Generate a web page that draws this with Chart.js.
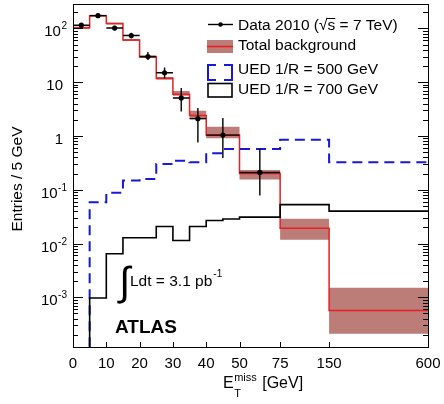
<!DOCTYPE html>
<html>
<head>
<meta charset="utf-8">
<script src="https://cdn.jsdelivr.net/npm/chart.js@4.4.1/dist/chart.umd.min.js"></script>
<style>
  html, body { margin: 0; padding: 0; background: #fff; }
  #wrap { width: 444px; height: 404px; }
</style>
</head>
<body>
<div id="wrap"><canvas id="chart" width="444" height="404"></canvas></div>
<script>
// Missing transverse energy, ATLAS 2010 data vs background and UED signals

const FONT = "'Liberation Sans', Arial, Helvetica, sans-serif";

// x axis is piecewise linear: knots in GeV and their position on the drawn axis
const X_KNOTS_GEV = [0, 50, 75, 150, 600];
const X_KNOTS_POS = [0, 50, 62.2, 76.9, 106.6];
const X_TICKS = [0, 10, 20, 30, 40, 50, 75, 150, 600];

// y axis range (log)
const Y_MIN = 1.19e-4;
const Y_MAX = 285;

// total background (bin edges in GeV, entries / 5 GeV)
const bgEdges = [0, 5, 10, 15, 20, 25, 30, 35, 40, 50, 75, 150, 600];
const bgValues = [103, 173, 123, 61, 29.6, 11.8, 6.0, 2.4, 1.04, 0.2, 0.0193, 0.00057];
const bgUp = [108, 180, 128, 63.5, 31, 12.5, 6.9, 2.95, 1.49, 0.234, 0.0288, 0.0015];
const bgDown = [98, 166, 118, 58.5, 28.2, 11.1, 5.6, 2.05, 0.91, 0.155, 0.0118, 0.00021];

// UED signals (first bin is empty, below the axis range)
const sigEdges = [0, 5, 10, 15, 20, 25, 30, 35, 40, 45, 50, 75, 150, 600];
const ued500 = [1e-6, 0.0586, 0.0876, 0.148, 0.159, 0.30, 0.348, 0.324, 0.48, 0.574, 0.574, 0.85, 0.324];
const ued700 = [1e-6, 0.00097, 0.00647, 0.0128, 0.0128, 0.0208, 0.0114, 0.0208, 0.0268, 0.0285, 0.031, 0.053, 0.040];

// data 2010
const dataEdges = [0, 5, 10, 15, 20, 25, 30, 35, 40, 50, 75];
const dataValues = [115, 173, 102, 74, 30, 15, 5.1, 2.1, 1.04, 0.21];
const dataErrLo = [104, 160, 92, 65, 25.8, 11.9, 2.86, 0.76, 0.39, 0.078];
const dataErrHi = [126, 186, 112, 83, 36.6, 18.7, 7.8, 3.3, 2.16, 0.574];

const RED = 'rgb(232, 30, 34)';
const BLUE = 'rgb(24, 24, 214)';
const BAND = 'rgb(188, 124, 119)';

// GeV -> position on the (linear) x scale
function U(gev) {
  for (let i = 1; i < X_KNOTS_GEV.length; i++) {
    if (gev <= X_KNOTS_GEV[i]) {
      const a = X_KNOTS_GEV[i - 1], b = X_KNOTS_GEV[i];
      const t = (gev - a) / (b - a);
      return X_KNOTS_POS[i - 1] + t * (X_KNOTS_POS[i] - X_KNOTS_POS[i - 1]);
    }
  }
  return X_KNOTS_POS[X_KNOTS_POS.length - 1];
}

function stepPoints(edges, values) {
  return edges.map((e, i) => ({ x: U(e), y: values[Math.min(i, values.length - 1)] }));
}

const dataPoints = dataValues.map((v, i) => ({ x: U((dataEdges[i] + dataEdges[i + 1]) / 2), y: v }));

function drawPow(ctx, exp, rightX, baseY) {
  ctx.font = `15px ${FONT}`;
  const wb = ctx.measureText('10').width;
  ctx.font = `10px ${FONT}`;
  const ws = ctx.measureText(exp).width;
  ctx.textAlign = 'left';
  ctx.fillText(exp, rightX - ws, baseY - 7);
  ctx.font = `15px ${FONT}`;
  ctx.fillText('10', rightX - ws - wb - 0.5, baseY);
}

const histoDecor = {
  id: 'histoDecor',
  afterDatasetsDraw(chart) {
    const { ctx, scales: { x, y } } = chart;
    ctx.save();
    ctx.strokeStyle = '#000';
    ctx.lineWidth = 1.4;
    dataValues.forEach((v, i) => {
      const xl = x.getPixelForValue(U(dataEdges[i]));
      const xr = x.getPixelForValue(U(dataEdges[i + 1]));
      const xc = x.getPixelForValue(U((dataEdges[i] + dataEdges[i + 1]) / 2));
      const yc = y.getPixelForValue(v);
      ctx.beginPath();
      ctx.moveTo(xl, yc);
      ctx.lineTo(xr, yc);
      ctx.moveTo(xc, y.getPixelForValue(dataErrLo[i]));
      ctx.lineTo(xc, y.getPixelForValue(dataErrHi[i]));
      ctx.stroke();
    });
    ctx.restore();
  },
  afterDraw(chart) {
    const { ctx, chartArea: a, scales: { x, y } } = chart;
    ctx.save();

    // frame
    ctx.strokeStyle = '#000';
    ctx.lineWidth = 1;
    ctx.strokeRect(Math.round(a.left) + 0.5, Math.round(a.top) + 0.5,
      Math.round(a.right - a.left), Math.round(a.bottom - a.top));

    // y ticks, inside on both sides
    ctx.beginPath();
    for (let e = -4; e <= 2; e++) {
      for (let m = 1; m <= 9; m++) {
        const v = m * Math.pow(10, e);
        if (v < Y_MIN || v > Y_MAX) continue;
        const py = Math.round(y.getPixelForValue(v)) + 0.5;
        const len = m === 1 ? 10 : 5;
        ctx.moveTo(a.left, py); ctx.lineTo(a.left + len, py);
        ctx.moveTo(a.right, py); ctx.lineTo(a.right - len, py);
      }
    }
    // x ticks
    X_TICKS.forEach((t) => {
      const px = Math.round(x.getPixelForValue(U(t))) + 0.5;
      ctx.moveTo(px, a.bottom); ctx.lineTo(px, a.bottom - 5);
    });
    ctx.stroke();

    ctx.fillStyle = '#000';
    // x tick labels
    ctx.font = `15px ${FONT}`;
    ctx.textAlign = 'center';
    ctx.textBaseline = 'alphabetic';
    X_TICKS.forEach((t) => {
      ctx.fillText(String(t), x.getPixelForValue(U(t)), 368);
    });

    // y tick labels
    for (let e = -3; e <= 2; e++) {
      const py = y.getPixelForValue(Math.pow(10, e)) + 8;
      if (e === 0 || e === 1) {
        ctx.font = `15px ${FONT}`;
        ctx.textAlign = 'right';
        ctx.fillText(e === 0 ? '1' : '10', 63, py);
      } else {
        drawPow(ctx, e < 0 ? '-' + (-e) : String(e), 67, py);
      }
    }

    // y title
    ctx.save();
    ctx.translate(22, 179);
    ctx.rotate(-Math.PI / 2);
    ctx.font = `15.5px ${FONT}`;
    ctx.textAlign = 'center';
    ctx.fillText('Entries / 5 GeV', 0, 0);
    ctx.restore();

    // x title
    ctx.textAlign = 'left';
    ctx.font = `16px ${FONT}`;
    let tx = 223;
    ctx.fillText('E', tx, 388);
    tx += ctx.measureText('E').width + 0.5;
    ctx.font = `11px ${FONT}`;
    ctx.fillText('T', tx, 397);
    ctx.fillText('miss', tx, 381);
    tx += ctx.measureText('miss').width + 1;
    ctx.font = `16px ${FONT}`;
    ctx.fillText(' [GeV]', tx, 388);

    // legend
    ctx.font = `15.5px ${FONT}`;
    const lx0 = 207, lx1 = 233, tx0 = 238;
    // data marker
    ctx.beginPath();
    ctx.lineWidth = 1.4;
    ctx.moveTo(lx0 + 1, 24.5); ctx.lineTo(lx1, 24.5);
    ctx.stroke();
    ctx.beginPath();
    ctx.arc((lx0 + lx1) / 2 + 0.5, 24.5, 2.3, 0, Math.PI * 2);
    ctx.fill();
    const t1 = 'Data 2010 (\u221A';
    ctx.fillText(t1 + 's = 7 TeV)', tx0, 30);
    const ws0 = ctx.measureText(t1).width;
    const ws1 = ctx.measureText('s').width;
    ctx.beginPath();
    ctx.lineWidth = 1;
    ctx.moveTo(tx0 + ws0 - 1, 18.5); ctx.lineTo(tx0 + ws0 + ws1, 18.5);
    ctx.stroke();
    // background
    ctx.fillStyle = BAND;
    ctx.fillRect(lx0, 40, lx1 - lx0, 13);
    ctx.strokeStyle = RED;
    ctx.lineWidth = 1.5;
    ctx.beginPath();
    ctx.moveTo(lx0, 46.5); ctx.lineTo(lx1, 46.5);
    ctx.stroke();
    ctx.fillStyle = '#000';
    ctx.fillText('Total background', tx0, 50);
    // UED 500
    ctx.strokeStyle = BLUE;
    ctx.lineWidth = 2;
    ctx.beginPath();
    ctx.moveTo(lx0 + 9, 65); ctx.lineTo(lx0 + 1, 65); ctx.lineTo(lx0 + 1, 80); ctx.lineTo(lx0 + 9, 80);
    ctx.moveTo(lx1 - 9, 65); ctx.lineTo(lx1 - 1, 65); ctx.lineTo(lx1 - 1, 80); ctx.lineTo(lx1 - 9, 80);
    ctx.stroke();
    ctx.fillText('UED 1/R = 500 GeV', tx0, 74);
    // UED 700
    ctx.strokeStyle = '#000';
    ctx.lineWidth = 1.6;
    ctx.strokeRect(lx0 + 1, 83.5, lx1 - lx0 - 2, 13.5);
    ctx.fillText('UED 1/R = 700 GeV', tx0, 94);

    // luminosity
    ctx.font = `40px ${FONT}`;
    ctx.fillText('\u222B', 119, 295);
    ctx.font = `15.5px ${FONT}`;
    ctx.fillText('Ldt = 3.1 pb', 130, 286);
    const wl = ctx.measureText('Ldt = 3.1 pb').width;
    ctx.font = `10px ${FONT}`;
    ctx.fillText('-1', 130 + wl + 1, 277);

    // ATLAS label
    ctx.font = `bold 19px ${FONT}`;
    ctx.fillText('ATLAS', 115, 333);

    ctx.restore();
  },
};

new Chart(document.getElementById('chart'), {
  type: 'line',
  data: {
    datasets: [
      {
        label: 'Data 2010',
        data: dataPoints,
        showLine: false,
        pointRadius: 2.6,
        pointBackgroundColor: '#000',
        pointBorderWidth: 0,
        order: 0,
      },
      {
        label: 'UED 1/R = 700 GeV',
        data: stepPoints(sigEdges, ued700),
        stepped: true,
        borderColor: '#000',
        borderWidth: 1.6,
        pointRadius: 0,
        fill: false,
        order: 1,
      },
      {
        label: 'UED 1/R = 500 GeV',
        data: stepPoints(sigEdges, ued500),
        stepped: true,
        borderColor: BLUE,
        borderWidth: 2,
        borderDash: [10, 6],
        pointRadius: 0,
        fill: false,
        order: 2,
      },
      {
        label: 'Total background',
        data: stepPoints(bgEdges, bgValues),
        stepped: true,
        borderColor: RED,
        borderWidth: 1.5,
        pointRadius: 0,
        fill: false,
        order: 3,
      },
      {
        label: 'band up',
        data: stepPoints(bgEdges, bgUp),
        stepped: true,
        borderColor: 'rgba(0,0,0,0)',
        borderWidth: 1,
        pointRadius: 0,
        fill: '+1',
        backgroundColor: BAND,
        order: 4,
      },
      {
        label: 'band down',
        data: stepPoints(bgEdges, bgDown),
        stepped: true,
        borderColor: 'rgba(0,0,0,0)',
        borderWidth: 1,
        pointRadius: 0,
        fill: false,
        order: 5,
      },
    ],
  },
  options: {
    responsive: false,
    animation: false,
    devicePixelRatio: 1,
    layout: { padding: { left: 73, right: 16, top: 3, bottom: 57 } },
    plugins: {
      legend: { display: false },
      tooltip: { enabled: false },
    },
    scales: {
      x: { type: 'linear', display: false, min: 0, max: U(600) },
      y: { type: 'logarithmic', display: false, min: Y_MIN, max: Y_MAX },
    },
  },
  plugins: [histoDecor],
});
</script>
</body>
</html>
